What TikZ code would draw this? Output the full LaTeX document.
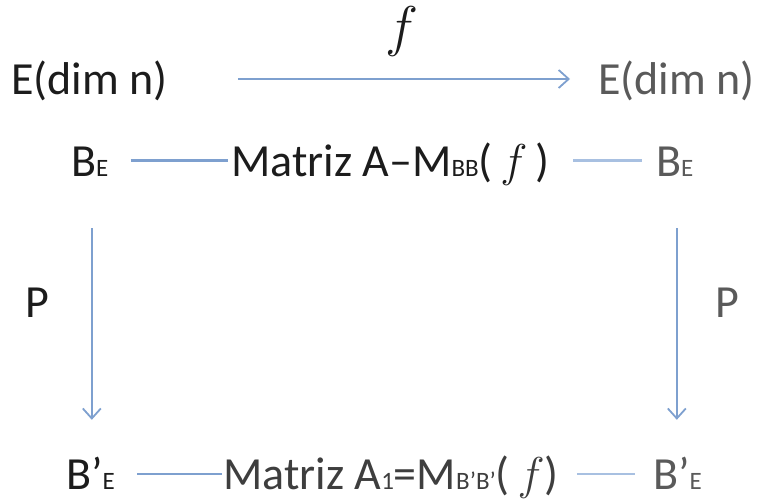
\RequirePackage{fix-cm}
\documentclass[tikz,border=0pt]{standalone}
\usepackage{fontspec}
\setmainfont{Carlito}
\usetikzlibrary{arrows.meta}
\definecolor{lineblue}{RGB}{126,160,207}
\definecolor{lightblue}{RGB}{168,192,225}
\definecolor{txtdark}{RGB}{28,28,28}
\definecolor{txtgray}{RGB}{90,90,90}
\newcommand{\sm}[1]{{\fontsize{25}{28}\selectfont #1}}
\begin{document}
\begin{tikzpicture}[x=1pt,y=1pt,
  lbl/.style={inner sep=0pt, anchor=base west, text height=32pt, text depth=0pt,
    font=\fontsize{46}{54}\selectfont, text=txtdark},
  lblgray/.style={lbl, text=txtgray},
  conn/.style={draw=lineblue, line width=3pt},
  connlight/.style={draw=lightblue, line width=3pt},
  thin/.style={draw=lineblue, line width=1.8pt},
  arr/.style={draw=lineblue, line width=2pt, -{Straight Barb[length=10pt,width=18pt,line width=1.8pt]}}
]
\useasboundingbox (0,0) rectangle (757,500);
% row 1
\node[lbl] (e1) at (11,405) {E(dim n)};
\node[lblgray] (e2) at (598,405) {E(dim n)};
\node[inner sep=0pt, font=\fontsize{56}{60}\selectfont, text=txtdark] (flab) at (402,468) {$f$};
% row 2
\node[lbl] (b1) at (71,323) {B\sm{E}};
\node[lbl] (m1) at (231,323) {Matriz A–M\sm{BB}(\,$f$\,)};
\node[lblgray] (b2) at (656,323) {B\sm{E}};
% P labels
\node[lbl] (p1) at (25,182) {P};
\node[lblgray] (p2) at (715,182) {P};
% row 3
\node[lbl] (c1) at (66,10) {B’\sm{E}};
\node[lbl, text=txtdark!85] (m2) at (223,10) {Matriz A\sm{1}=M\sm{B’B’}(\,$f$)};
\node[lblgray] (c2) at (653,10) {B’\sm{E}};
% connectors
\draw[arr, shorten <=70pt, shorten >=28pt] (e1.east) -- (e2.west);
\draw[conn, shorten <=22pt, shorten >=3pt] (b1.east) -- (m1.west);
\draw[connlight, shorten <=24pt, shorten >=14pt] (m1.east) -- (b2.west);
\draw[thin, shorten <=22pt, shorten >=1pt] (c1.east) -- (m2.west);
\draw[thin, draw=lightblue, shorten <=18pt, shorten >=18pt] (m2.east) -- (c2.west);
\draw[arr, shorten <=51pt, shorten >=38pt] ([xshift=2pt]b1.south) -- ([xshift=2pt]c1.north -| b1.south);
\draw[arr, line width=1.6pt, shorten <=51pt, shorten >=38pt] ([xshift=2pt]b2.south) -- ([xshift=2pt]c2.north -| b2.south);
\end{tikzpicture}
\end{document}
